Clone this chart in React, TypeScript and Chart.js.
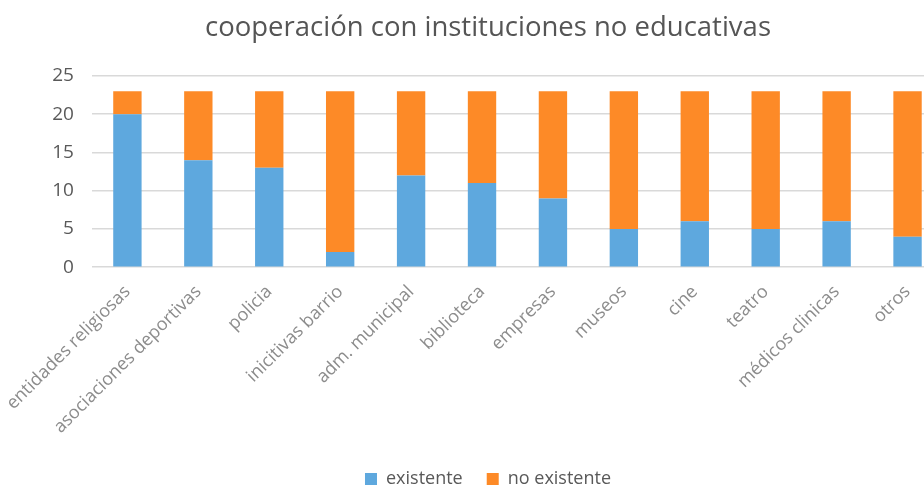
import React, { useEffect, useRef } from "react";
import { Chart, registerables } from "chart.js";

Chart.register(...registerables);

const categories = [
  "entidades religiosas",
  "asociaciones deportivas",
  "policia",
  "inicitivas barrio",
  "adm. municipal",
  "biblioteca",
  "empresas",
  "museos",
  "cine",
  "teatro",
  "médicos clinicas",
  "otros",
];
const existente = [20, 14, 13, 2, 12, 11, 9, 5, 6, 5, 6, 4];
const noExistente = [3, 9, 10, 21, 11, 12, 14, 18, 17, 18, 17, 19];
const titleText = "cooperación con instituciones no educativas";

export default function App() {
  const ref = useRef<HTMLCanvasElement | null>(null);
  useEffect(() => {
    if (!ref.current) return;
    const chart = new Chart(ref.current, {
      type: "bar",
      data: {
        labels: categories,
        datasets: [
          { label: "existente", data: existente, backgroundColor: "#5ea8de", borderWidth: 0 },
          { label: "no existente", data: noExistente, backgroundColor: "#fd8a27", borderWidth: 0 },
        ],
      },
      options: {
        animation: false,
        responsive: false,
        devicePixelRatio: 1,
        layout: { padding: { left: 33, right: 13, top: 8, bottom: -8 } },
        datasets: { bar: { barPercentage: 0.4, categoryPercentage: 1 } },
        plugins: {
          title: {
            display: true,
            text: titleText,
            color: "#555555",
            font: { family: "Open Sans", size: 27.5, weight: "normal" },
            padding: { top: 4, bottom: 31 },
          },
          legend: {
            position: "bottom",
            title: {
              display: true,
              text: " ",
              font: { size: 1 },
              padding: { top: 0, bottom: 1 },
            },
            labels: {
              boxWidth: 12,
              boxHeight: 12,
              color: "#595959",
              font: { family: "Open Sans", size: 18 },
              padding: 24,
            },
          },
          tooltip: { enabled: false },
        },
        scales: {
          x: {
            stacked: true,
            grid: { display: false },
            border: { display: false },
            ticks: {
              minRotation: 45,
              maxRotation: 45,
              color: "#8c8c8c",
              font: { family: "Open Sans", size: 18 },
              padding: 6,
            },
          },
          y: {
            stacked: true,
            min: 0,
            max: 25,
            ticks: {
              stepSize: 5,
              color: "#595959",
              font: { family: "Open Sans", size: 19 },
              padding: 18,
            },
            grid: { color: "#d9d9d9", lineWidth: 1.5, drawTicks: false },
            border: { display: false },
          },
        },
      },
    });
    return () => chart.destroy();
  }, []);
  return (
    <div style={{ position: "fixed", left: 0, top: 0, width: 924, height: 490, overflow: "hidden", background: "#fff" }}>
      <canvas ref={ref} width={956} height={490} style={{ display: "block" }} />
    </div>
  );
}
